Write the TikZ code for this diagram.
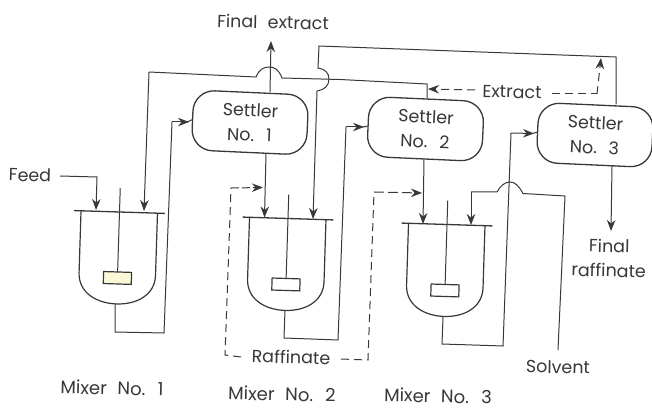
\documentclass[tikz,border=0pt]{standalone}
\usepackage{fontspec}
\setmainfont[WordSpace=2.2]{Poppins}
\usetikzlibrary{arrows.meta,backgrounds}
\definecolor{ink}{gray}{0.22}
\definecolor{paddle}{RGB}{250,248,215}
\tikzset{
  pipe/.style={draw=ink,line width=1pt},
  flow/.style={pipe,-{Stealth[length=11pt,width=8.5pt]}},
  dashline/.style={pipe,dash pattern=on 8pt off 5pt},
  dashflow/.style={dashline,-{Stealth[length=11pt,width=8.5pt]}},
  settler/.style={draw=ink,line width=1.3pt,rounded corners=21pt,fill=white,minimum width=115pt,minimum height=60pt,rotate=-1.3,align=center,inner sep=0pt},
  txt/.style={text=ink,font=\fontsize{17.5}{24.5}\selectfont,align=center,inner sep=0pt,rotate=-1.3},
  mixtxt/.style={txt,font=\fontsize{18}{24}\selectfont},
  pics/mixer/.style={code={
    \draw[draw=ink,line width=1.3pt] (-45.5,0) -- (45.5,0);
    \draw[draw=ink,line width=1.2pt] (-38.5,0) -- (-38.5,62) .. controls (-38.5,82) and (-20,92) .. (0,92) .. controls (20,92) and (38,82) .. (38,62) -- (38,0);
    \draw[draw=ink,line width=1pt] (0,-24) -- (0,60);
    \draw[draw=ink,line width=1.2pt,fill=#1] (-14,60) rectangle (14,72);
  }}
}
\begin{document}
\begin{tikzpicture}[x=1pt,y=-1pt]
\useasboundingbox (0,0) rectangle (652,411);

% settlers
\node[settler,txt] (s1) at (250,122.5) {Settler\\No. 1};
\node[settler,txt] (s2) at (425.5,129) {Settler\\No. 2};
\node[settler,txt] (s3) at (595,135) {Settler\\No. 3};

% mixers
\pic[rotate=-1.8] at (119.5,212) {mixer=paddle};
\pic[rotate=-1.8] at (288,218.5) {mixer=white};
\pic[rotate=-1.8] at (447,224.5) {mixer=white};

% labels
\node[txt] (fe) at (273,22) {Final extract};
\node[txt] (feed) at (30,175) {Feed};
\node[txt] (ext) at (512,92) {Extract};
\node[txt] (raf) at (291,357) {Raffinate};
\node[txt] (fr) at (609,258) {Final\\raffinate};
\node[txt] (sol) at (558,367) {Solvent};
\node[mixtxt] (m1) at (112,388) {Mixer No. 1};
\node[mixtxt] (m2) at (282,394) {Mixer No. 2};
\node[mixtxt] (m3) at (438,396) {Mixer No. 3};

% named points
\coordinate (l1a) at (96,210);
\coordinate (l1b) at (144,211);
\coordinate (l2a) at (264.5,217.5);
\coordinate (l2b) at (313,219);
\coordinate (l3a) at (423,224);
\coordinate (l3b) at (471,225);

\begin{scope}[on background layer]
% feed
\draw[flow] (60,176) -- (97,177) -- (l1a);
% final extract
\draw[flow] (s1.north -| 270,0) -- (271,41);
% extract from settler 2 to mixer 1
\draw[pipe] (s2.north -| 427,0) -- (427,84) -- (340,79.5) -- (282,78)
  .. controls (279,70) and (275,67) .. (269,67) .. controls (263,67) and (259,70) .. (256,77) -- (149,72);
\draw[flow] (149,72) -- (l1b);
% extract from settler 3 to mixer 2
\draw[pipe] (s3.north -| 616,0) -- (616,57) -- (319,46) -- (318,68)
  .. controls (325,69) and (329,73) .. (329,79) .. controls (329,86) and (324,90) .. (317,91);
\draw[flow] (317,91) -- (l2b);
% mixer 1 to settler 1
\draw[pipe] (115,304) -- (115,332) -- (164,333) -- (172,122);
\draw[flow] (172,122) -- (189,122);
\draw[pipe] (187,122) -- (s1.west);
% settler 1 to mixer 2
\draw[flow] (s1.south -| 266,0) -- (l2a);
% mixer 2 to settler 2
\draw[pipe] (285,310) -- (284,338) -- (338,340) -- (346,127);
\draw[flow] (346,127) -- (364,127);
\draw[pipe] (362,127) -- (s2.west);
% settler 2 to mixer 3
\draw[flow] (s2.south -| 424,0) -- (l3a);
% mixer 3 to settler 3
\draw[pipe] (443,317) -- (442,344) -- (503,346) -- (511,133);
\draw[flow] (511,133) -- (534,133.5);
\draw[pipe] (532,133.5) -- (s3.west);
% solvent
\draw[pipe] (558,350) -- (565,196) -- (523,193.5)
  .. controls (519,186) and (515,182) .. (510,182) .. controls (505,182) and (500,186) .. (497,192) -- (471,192);
\draw[flow] (471,192) -- (l3b);
% final raffinate
\draw[flow] (s3.south -| 612,0) -- (611,231);
% dashed recycle
\draw[dashflow] (475,90) -- (428,89);
\draw[dashline] (552,94) -- (597,94);
\draw[dashflow] (597,94) -- (601,58);
\draw[dashline] (241,357) -- (225,355) -- (231,188);
\draw[pipe,dash pattern=on 8pt off 3pt,-{Stealth[length=11pt,width=8.5pt]}] (231,188) -- (263,187.5);
\draw[dashline] (341,359) -- (368,360) -- (374,192);
\draw[pipe,dash pattern=on 10pt off 4pt,-{Stealth[length=11pt,width=8.5pt]}] (374,192) -- (422,193);
\end{scope}
\end{tikzpicture}
\end{document}
